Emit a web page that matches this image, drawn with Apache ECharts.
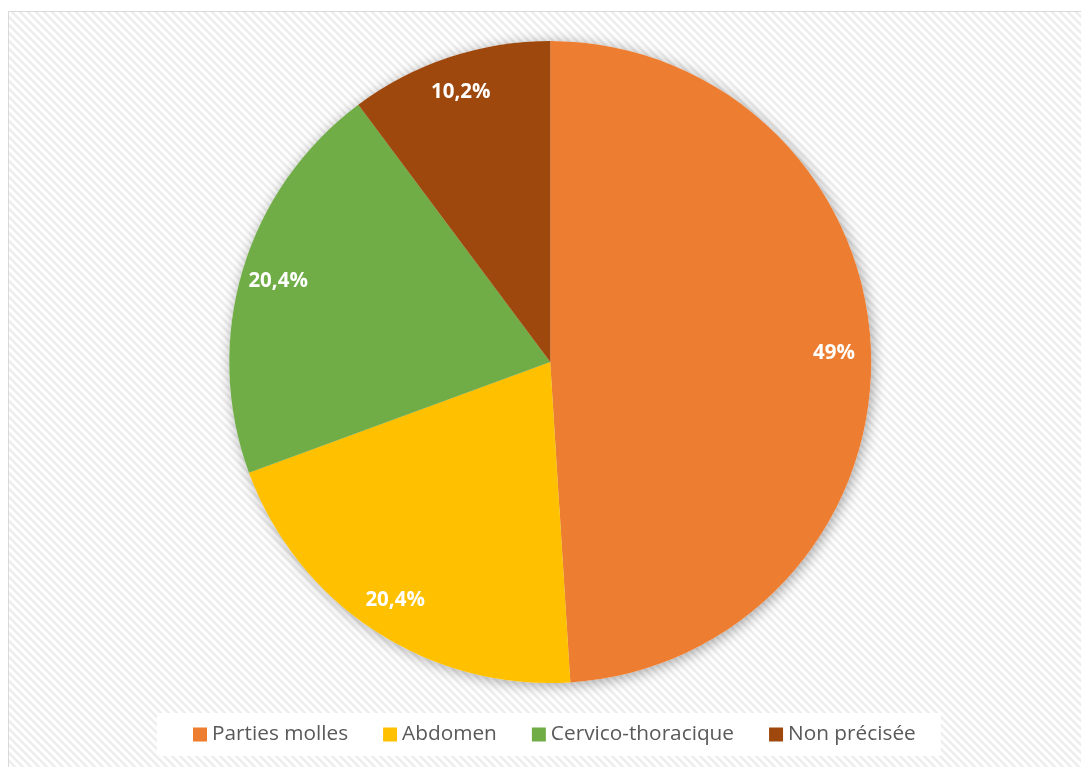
<!DOCTYPE html>
<html>
<head>
<meta charset="utf-8">
<script src="https://cdn.jsdelivr.net/npm/echarts@6/dist/echarts.min.js"></script>
<style>
  html, body { margin: 0; padding: 0; background: #ffffff; }
  #chart { width: 1081px; height: 767px; }
</style>
</head>
<body>
<div id="chart"></div>
<script>
// Localisation des lésions (%)
const categories = ['Parties molles', 'Abdomen', 'Cervico-thoracique', 'Non précisée'];
const values = [49, 20.4, 20.4, 10.2];
const colors = ['#ED7D31', '#FFC000', '#70AD47', '#9E480E'];

const pieData = categories.map((name, i) => ({
  name: name,
  value: values[i],
  itemStyle: { color: colors[i] }
}));

// Light diagonal hatch used as the chart-area fill
function makeHatch() {
  const c = document.createElement('canvas');
  const s = 8;
  c.width = s; c.height = s;
  const ctx = c.getContext('2d');
  ctx.fillStyle = '#ffffff';
  ctx.fillRect(0, 0, s, s);
  ctx.strokeStyle = '#ededed';
  ctx.lineWidth = 2.5;
  for (let k = -1; k <= 1; k++) {
    ctx.beginPath();
    ctx.moveTo(k * s - 1, -1);
    ctx.lineTo(k * s + s + 1, s + 1);
    ctx.stroke();
  }
  return c;
}

const fmt = p => (Number.isInteger(p.value) ? String(p.value) : String(p.value).replace('.', ',')) + '%';

const chart = echarts.init(document.getElementById('chart'), null, { renderer: 'canvas' });
const center = ['50.9%', '47.2%'];
const R = 321;

chart.setOption({
  animation: false,
  backgroundColor: '#ffffff',
  graphic: [{
    type: 'rect',
    z: -10,
    silent: true,
    shape: { x: 8.5, y: 11.5, width: 1100, height: 800 },
    style: { fill: { image: makeHatch(), repeat: 'repeat' }, stroke: '#d9d9d9', lineWidth: 1 }
  }],
  legend: {
    data: categories,
    bottom: 11,
    left: 157,
    backgroundColor: '#ffffff',
    padding: [11, 25, 11, 36],
    itemWidth: 14,
    itemHeight: 14,
    itemGap: 35,
    icon: 'rect',
    textStyle: { fontFamily: 'Open Sans', fontSize: 20.8, color: '#595959' }
  },
  series: [
    {
      // soft shadow beneath the pie
      type: 'pie',
      silent: true,
      z: 1,
      center: center,
      radius: R,
      startAngle: 90,
      clockwise: true,
      label: { show: false },
      labelLine: { show: false },
      legendHoverLink: false,
      data: categories.map((name, i) => ({
        name: name + ' ',
        value: values[i],
        itemStyle: { color: '#ffffff', shadowBlur: 14, shadowColor: 'rgba(0,0,0,0.35)', shadowOffsetX: 2, shadowOffsetY: 2 }
      }))
    },
    {
      type: 'pie',
      z: 2,
      center: center,
      radius: R,
      startAngle: 90,
      clockwise: true,
      label: { show: false },
      labelLine: { show: false },
      data: pieData
    },
    {
      // value labels placed near the rim
      type: 'pie',
      z: 3,
      silent: true,
      center: center,
      radius: [R * 0.75, R],
      startAngle: 90,
      clockwise: true,
      itemStyle: { color: 'rgba(0,0,0,0)' },
      labelLine: { show: false },
      label: {
        show: true,
        position: 'inside',
        formatter: fmt,
        color: '#ffffff',
        fontFamily: 'Open Sans',
        fontWeight: 'bold',
        fontSize: 20.5
      },
      data: categories.map((name, i) => ({ name: name, value: values[i] }))
    }
  ]
});
</script>
</body>
</html>
